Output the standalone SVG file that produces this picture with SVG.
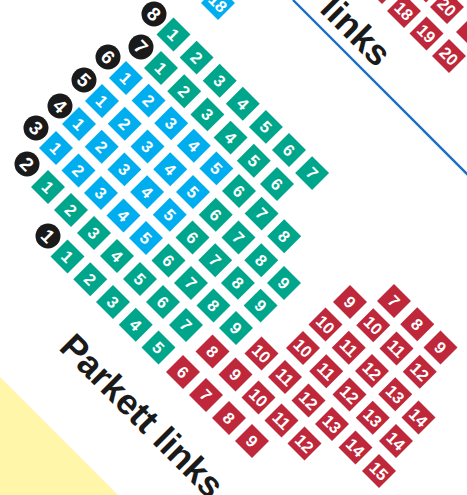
<svg xmlns="http://www.w3.org/2000/svg" xmlns:xlink="http://www.w3.org/1999/xlink" width="467" height="495" viewBox="0 0 467 495">
<style>
.g{fill:#00a68c}.b{fill:#00aeef}.r{fill:#be283a}
.seat text{fill:#fff;font-family:"Liberation Sans",Arial,sans-serif;font-weight:bold;font-size:16.5px;text-anchor:middle}
.lbl circle{fill:#1a1a1a}
.lbl text{fill:#fff;font-family:"Liberation Sans",Arial,sans-serif;font-weight:bold;font-size:19px;text-anchor:middle}
.title{fill:#1a1a1a;font-family:"Liberation Sans",Arial,sans-serif;font-weight:bold;font-size:36px}
</style>
<defs><rect id="d" x="-12" y="-12" width="24" height="24"/></defs>
<polygon id="yellow" points="0,377 118,495 0,495" fill="#fff6aa"/>
<line id="divider" x1="293" y1="0" x2="470" y2="177" stroke="#1a6fc4" stroke-width="2.4"/>
<text id="title-bottom" class="title" transform="translate(57.75,348.75) rotate(45)">Parkett links</text>
<text id="title-top" class="title" transform="translate(318.5,10.5) rotate(45)">links</text>
<g id="labels">
<g id="row1" class="lbl" transform="translate(48,236) rotate(45)"><circle r="12.5"/><text y="6.8">1</text></g>
<g id="row2" class="lbl" transform="translate(27,164) rotate(45)"><circle r="12.5"/><text y="6.8">2</text></g>
<g id="row3" class="lbl" transform="translate(36,128) rotate(45)"><circle r="12.5"/><text y="6.8">3</text></g>
<g id="row4" class="lbl" transform="translate(60,106) rotate(45)"><circle r="12.5"/><text y="6.8">4</text></g>
<g id="row5" class="lbl" transform="translate(84,80) rotate(45)"><circle r="12.5"/><text y="6.8">5</text></g>
<g id="row6" class="lbl" transform="translate(108,57) rotate(45)"><circle r="12.5"/><text y="6.8">6</text></g>
<g id="row7" class="lbl" transform="translate(141,47) rotate(45)"><circle r="12.5"/><text y="6.8">7</text></g>
<g id="row8" class="lbl" transform="translate(154,14) rotate(45)"><circle r="12.5"/><text y="6.8">8</text></g>
</g>
<g id="seats">
<g id="r1s1" class="seat g" transform="translate(67.5,256.5) rotate(45)"><use xlink:href="#d"/><text y="5.9">1</text></g>
<g id="r1s2" class="seat g" transform="translate(90.25,279.25) rotate(45)"><use xlink:href="#d"/><text y="5.9">2</text></g>
<g id="r1s3" class="seat g" transform="translate(113,302) rotate(45)"><use xlink:href="#d"/><text y="5.9">3</text></g>
<g id="r1s4" class="seat g" transform="translate(135.75,324.75) rotate(45)"><use xlink:href="#d"/><text y="5.9">4</text></g>
<g id="r1s5" class="seat g" transform="translate(158.5,347.5) rotate(45)"><use xlink:href="#d"/><text y="5.9">5</text></g>
<g id="r1s6" class="seat r" transform="translate(183,372) rotate(45)"><use xlink:href="#d"/><text y="5.9">6</text></g>
<g id="r1s7" class="seat r" transform="translate(206,395) rotate(45)"><use xlink:href="#d"/><text y="5.9">7</text></g>
<g id="r1s8" class="seat r" transform="translate(229,418) rotate(45)"><use xlink:href="#d"/><text y="5.9">8</text></g>
<g id="r1s9" class="seat r" transform="translate(252,441) rotate(45)"><use xlink:href="#d"/><text y="5.9">9</text></g>

<g id="r2s1" class="seat g" transform="translate(48,187) rotate(45)"><use xlink:href="#d"/><text y="5.9">1</text></g>
<g id="r2s2" class="seat g" transform="translate(71,210) rotate(45)"><use xlink:href="#d"/><text y="5.9">2</text></g>
<g id="r2s3" class="seat g" transform="translate(94,233) rotate(45)"><use xlink:href="#d"/><text y="5.9">3</text></g>
<g id="r2s4" class="seat g" transform="translate(117,256) rotate(45)"><use xlink:href="#d"/><text y="5.9">4</text></g>
<g id="r2s5" class="seat g" transform="translate(140,279) rotate(45)"><use xlink:href="#d"/><text y="5.9">5</text></g>
<g id="r2s6" class="seat g" transform="translate(163,302) rotate(45)"><use xlink:href="#d"/><text y="5.9">6</text></g>
<g id="r2s7" class="seat g" transform="translate(186,325) rotate(45)"><use xlink:href="#d"/><text y="5.9">7</text></g>
<g id="r2s8" class="seat r" transform="translate(212.5,351.5) rotate(45)"><use xlink:href="#d"/><text y="5.9">8</text></g>
<g id="r2s9" class="seat r" transform="translate(235.5,374.5) rotate(45)"><use xlink:href="#d"/><text y="5.9">9</text></g>
<g id="r2s10" class="seat r" transform="translate(258.5,397.5) rotate(45)"><use xlink:href="#d"/><text y="5.9">10</text></g>
<g id="r2s11" class="seat r" transform="translate(281.5,420.5) rotate(45)"><use xlink:href="#d"/><text y="5.9">11</text></g>
<g id="r2s12" class="seat r" transform="translate(304.5,443.5) rotate(45)"><use xlink:href="#d"/><text y="5.9">12</text></g>

<g id="r3s1" class="seat b" transform="translate(56,148) rotate(45)"><use xlink:href="#d"/><text y="5.9">1</text></g>
<g id="r3s2" class="seat b" transform="translate(78.5,170.5) rotate(45)"><use xlink:href="#d"/><text y="5.9">2</text></g>
<g id="r3s3" class="seat b" transform="translate(101,193) rotate(45)"><use xlink:href="#d"/><text y="5.9">3</text></g>
<g id="r3s4" class="seat b" transform="translate(123.5,215.5) rotate(45)"><use xlink:href="#d"/><text y="5.9">4</text></g>
<g id="r3s5" class="seat b" transform="translate(146,238) rotate(45)"><use xlink:href="#d"/><text y="5.9">5</text></g>
<g id="r3s6" class="seat g" transform="translate(168.5,260.5) rotate(45)"><use xlink:href="#d"/><text y="5.9">6</text></g>
<g id="r3s7" class="seat g" transform="translate(191,283) rotate(45)"><use xlink:href="#d"/><text y="5.9">7</text></g>
<g id="r3s8" class="seat g" transform="translate(213.5,305.5) rotate(45)"><use xlink:href="#d"/><text y="5.9">8</text></g>
<g id="r3s9" class="seat g" transform="translate(236,328) rotate(45)"><use xlink:href="#d"/><text y="5.9">9</text></g>
<g id="r3s10" class="seat r" transform="translate(261.5,353.5) rotate(45)"><use xlink:href="#d"/><text y="5.9">10</text></g>
<g id="r3s11" class="seat r" transform="translate(285,377) rotate(45)"><use xlink:href="#d"/><text y="5.9">11</text></g>
<g id="r3s12" class="seat r" transform="translate(308.5,400.5) rotate(45)"><use xlink:href="#d"/><text y="5.9">12</text></g>
<g id="r3s13" class="seat r" transform="translate(332,424) rotate(45)"><use xlink:href="#d"/><text y="5.9">13</text></g>
<g id="r3s14" class="seat r" transform="translate(355.5,447.5) rotate(45)"><use xlink:href="#d"/><text y="5.9">14</text></g>
<g id="r3s15" class="seat r" transform="translate(379,471) rotate(45)"><use xlink:href="#d"/><text y="5.9">15</text></g>

<g id="r4s1" class="seat b" transform="translate(79,124) rotate(45)"><use xlink:href="#d"/><text y="5.9">1</text></g>
<g id="r4s2" class="seat b" transform="translate(101.7,146.7) rotate(45)"><use xlink:href="#d"/><text y="5.9">2</text></g>
<g id="r4s3" class="seat b" transform="translate(124.4,169.4) rotate(45)"><use xlink:href="#d"/><text y="5.9">3</text></g>
<g id="r4s4" class="seat b" transform="translate(147.1,192.1) rotate(45)"><use xlink:href="#d"/><text y="5.9">4</text></g>
<g id="r4s5" class="seat b" transform="translate(169.8,214.8) rotate(45)"><use xlink:href="#d"/><text y="5.9">5</text></g>
<g id="r4s6" class="seat g" transform="translate(192.5,237.5) rotate(45)"><use xlink:href="#d"/><text y="5.9">6</text></g>
<g id="r4s7" class="seat g" transform="translate(215.2,260.2) rotate(45)"><use xlink:href="#d"/><text y="5.9">7</text></g>
<g id="r4s8" class="seat g" transform="translate(237.9,282.9) rotate(45)"><use xlink:href="#d"/><text y="5.9">8</text></g>
<g id="r4s9" class="seat g" transform="translate(260.6,305.6) rotate(45)"><use xlink:href="#d"/><text y="5.9">9</text></g>
<g id="r4s10" class="seat r" transform="translate(303,348) rotate(45)"><use xlink:href="#d"/><text y="5.9">10</text></g>
<g id="r4s11" class="seat r" transform="translate(326.25,371.25) rotate(45)"><use xlink:href="#d"/><text y="5.9">11</text></g>
<g id="r4s12" class="seat r" transform="translate(349.5,394.5) rotate(45)"><use xlink:href="#d"/><text y="5.9">12</text></g>
<g id="r4s13" class="seat r" transform="translate(372.75,417.75) rotate(45)"><use xlink:href="#d"/><text y="5.9">13</text></g>
<g id="r4s14" class="seat r" transform="translate(396,441) rotate(45)"><use xlink:href="#d"/><text y="5.9">14</text></g>

<g id="r5s1" class="seat b" transform="translate(102,101) rotate(45)"><use xlink:href="#d"/><text y="5.9">1</text></g>
<g id="r5s2" class="seat b" transform="translate(124.75,123.75) rotate(45)"><use xlink:href="#d"/><text y="5.9">2</text></g>
<g id="r5s3" class="seat b" transform="translate(147.5,146.5) rotate(45)"><use xlink:href="#d"/><text y="5.9">3</text></g>
<g id="r5s4" class="seat b" transform="translate(170.25,169.25) rotate(45)"><use xlink:href="#d"/><text y="5.9">4</text></g>
<g id="r5s5" class="seat b" transform="translate(193,192) rotate(45)"><use xlink:href="#d"/><text y="5.9">5</text></g>
<g id="r5s6" class="seat g" transform="translate(215.75,214.75) rotate(45)"><use xlink:href="#d"/><text y="5.9">6</text></g>
<g id="r5s7" class="seat g" transform="translate(238.5,237.5) rotate(45)"><use xlink:href="#d"/><text y="5.9">7</text></g>
<g id="r5s8" class="seat g" transform="translate(261.25,260.25) rotate(45)"><use xlink:href="#d"/><text y="5.9">8</text></g>
<g id="r5s9" class="seat g" transform="translate(284,283) rotate(45)"><use xlink:href="#d"/><text y="5.9">9</text></g>
<g id="r5s10" class="seat r" transform="translate(325.5,324.5) rotate(45)"><use xlink:href="#d"/><text y="5.9">10</text></g>
<g id="r5s11" class="seat r" transform="translate(348.75,347.75) rotate(45)"><use xlink:href="#d"/><text y="5.9">11</text></g>
<g id="r5s12" class="seat r" transform="translate(372,371) rotate(45)"><use xlink:href="#d"/><text y="5.9">12</text></g>
<g id="r5s13" class="seat r" transform="translate(395.25,394.25) rotate(45)"><use xlink:href="#d"/><text y="5.9">13</text></g>
<g id="r5s14" class="seat r" transform="translate(418.5,417.5) rotate(45)"><use xlink:href="#d"/><text y="5.9">14</text></g>

<g id="r6s1" class="seat b" transform="translate(126,78) rotate(45)"><use xlink:href="#d"/><text y="5.9">1</text></g>
<g id="r6s2" class="seat b" transform="translate(148.6,100.6) rotate(45)"><use xlink:href="#d"/><text y="5.9">2</text></g>
<g id="r6s3" class="seat b" transform="translate(171.2,123.2) rotate(45)"><use xlink:href="#d"/><text y="5.9">3</text></g>
<g id="r6s4" class="seat b" transform="translate(193.8,145.8) rotate(45)"><use xlink:href="#d"/><text y="5.9">4</text></g>
<g id="r6s5" class="seat b" transform="translate(216.4,168.4) rotate(45)"><use xlink:href="#d"/><text y="5.9">5</text></g>
<g id="r6s6" class="seat g" transform="translate(239,191) rotate(45)"><use xlink:href="#d"/><text y="5.9">6</text></g>
<g id="r6s7" class="seat g" transform="translate(261.6,213.6) rotate(45)"><use xlink:href="#d"/><text y="5.9">7</text></g>
<g id="r6s8" class="seat g" transform="translate(284.2,236.2) rotate(45)"><use xlink:href="#d"/><text y="5.9">8</text></g>
<g id="r6s9" class="seat r" transform="translate(350,302) rotate(45)"><use xlink:href="#d"/><text y="5.9">9</text></g>
<g id="r6s10" class="seat r" transform="translate(373.25,325.25) rotate(45)"><use xlink:href="#d"/><text y="5.9">10</text></g>
<g id="r6s11" class="seat r" transform="translate(396.5,348.5) rotate(45)"><use xlink:href="#d"/><text y="5.9">11</text></g>
<g id="r6s12" class="seat r" transform="translate(419.75,371.75) rotate(45)"><use xlink:href="#d"/><text y="5.9">12</text></g>

<g id="r7s1" class="seat g" transform="translate(161,68) rotate(45)"><use xlink:href="#d"/><text y="5.9">1</text></g>
<g id="r7s2" class="seat g" transform="translate(184.2,91.2) rotate(45)"><use xlink:href="#d"/><text y="5.9">2</text></g>
<g id="r7s3" class="seat g" transform="translate(207.4,114.4) rotate(45)"><use xlink:href="#d"/><text y="5.9">3</text></g>
<g id="r7s4" class="seat g" transform="translate(230.6,137.6) rotate(45)"><use xlink:href="#d"/><text y="5.9">4</text></g>
<g id="r7s5" class="seat g" transform="translate(253.8,160.8) rotate(45)"><use xlink:href="#d"/><text y="5.9">5</text></g>
<g id="r7s6" class="seat g" transform="translate(277,184) rotate(45)"><use xlink:href="#d"/><text y="5.9">6</text></g>
<g id="r7s7" class="seat r" transform="translate(394,301) rotate(45)"><use xlink:href="#d"/><text y="5.9">7</text></g>
<g id="r7s8" class="seat r" transform="translate(417.25,324.25) rotate(45)"><use xlink:href="#d"/><text y="5.9">8</text></g>
<g id="r7s9" class="seat r" transform="translate(440.5,347.5) rotate(45)"><use xlink:href="#d"/><text y="5.9">9</text></g>

<g id="r8s1" class="seat g" transform="translate(173.5,34.5) rotate(45)"><use xlink:href="#d"/><text y="5.9">1</text></g>
<g id="r8s2" class="seat g" transform="translate(196.6,57.6) rotate(45)"><use xlink:href="#d"/><text y="5.9">2</text></g>
<g id="r8s3" class="seat g" transform="translate(219.7,80.7) rotate(45)"><use xlink:href="#d"/><text y="5.9">3</text></g>
<g id="r8s4" class="seat g" transform="translate(242.8,103.8) rotate(45)"><use xlink:href="#d"/><text y="5.9">4</text></g>
<g id="r8s5" class="seat g" transform="translate(265.9,126.9) rotate(45)"><use xlink:href="#d"/><text y="5.9">5</text></g>
<g id="r8s6" class="seat g" transform="translate(289,150) rotate(45)"><use xlink:href="#d"/><text y="5.9">6</text></g>
<g id="r8s7" class="seat g" transform="translate(312.1,173.1) rotate(45)"><use xlink:href="#d"/><text y="5.9">7</text></g>

<g id="top-b18" class="seat b" transform="translate(218,3) rotate(45)"><use xlink:href="#d"/><text y="5.9">18</text></g>
<g id="top-r17" class="seat r" transform="translate(382,-13) rotate(45)"><use xlink:href="#d"/></g>
<g id="top-r18" class="seat r" transform="translate(404,11) rotate(45)"><use xlink:href="#d"/><text y="5.9">18</text></g>
<g id="top-r19" class="seat r" transform="translate(426.5,33.5) rotate(45)"><use xlink:href="#d"/><text y="5.9">19</text></g>
<g id="top-r20" class="seat r" transform="translate(449,56) rotate(45)"><use xlink:href="#d"/><text y="5.9">20</text></g>
<g id="top-r19b" class="seat r" transform="translate(426,-14.5) rotate(45)"><use xlink:href="#d"/></g>
<g id="top-r20b" class="seat r" transform="translate(447,7) rotate(45)"><use xlink:href="#d"/><text y="5.9">20</text></g>
<g id="top-r21b" class="seat r" transform="translate(473,32) rotate(45)"><use xlink:href="#d"/></g>
</g>
</svg>
